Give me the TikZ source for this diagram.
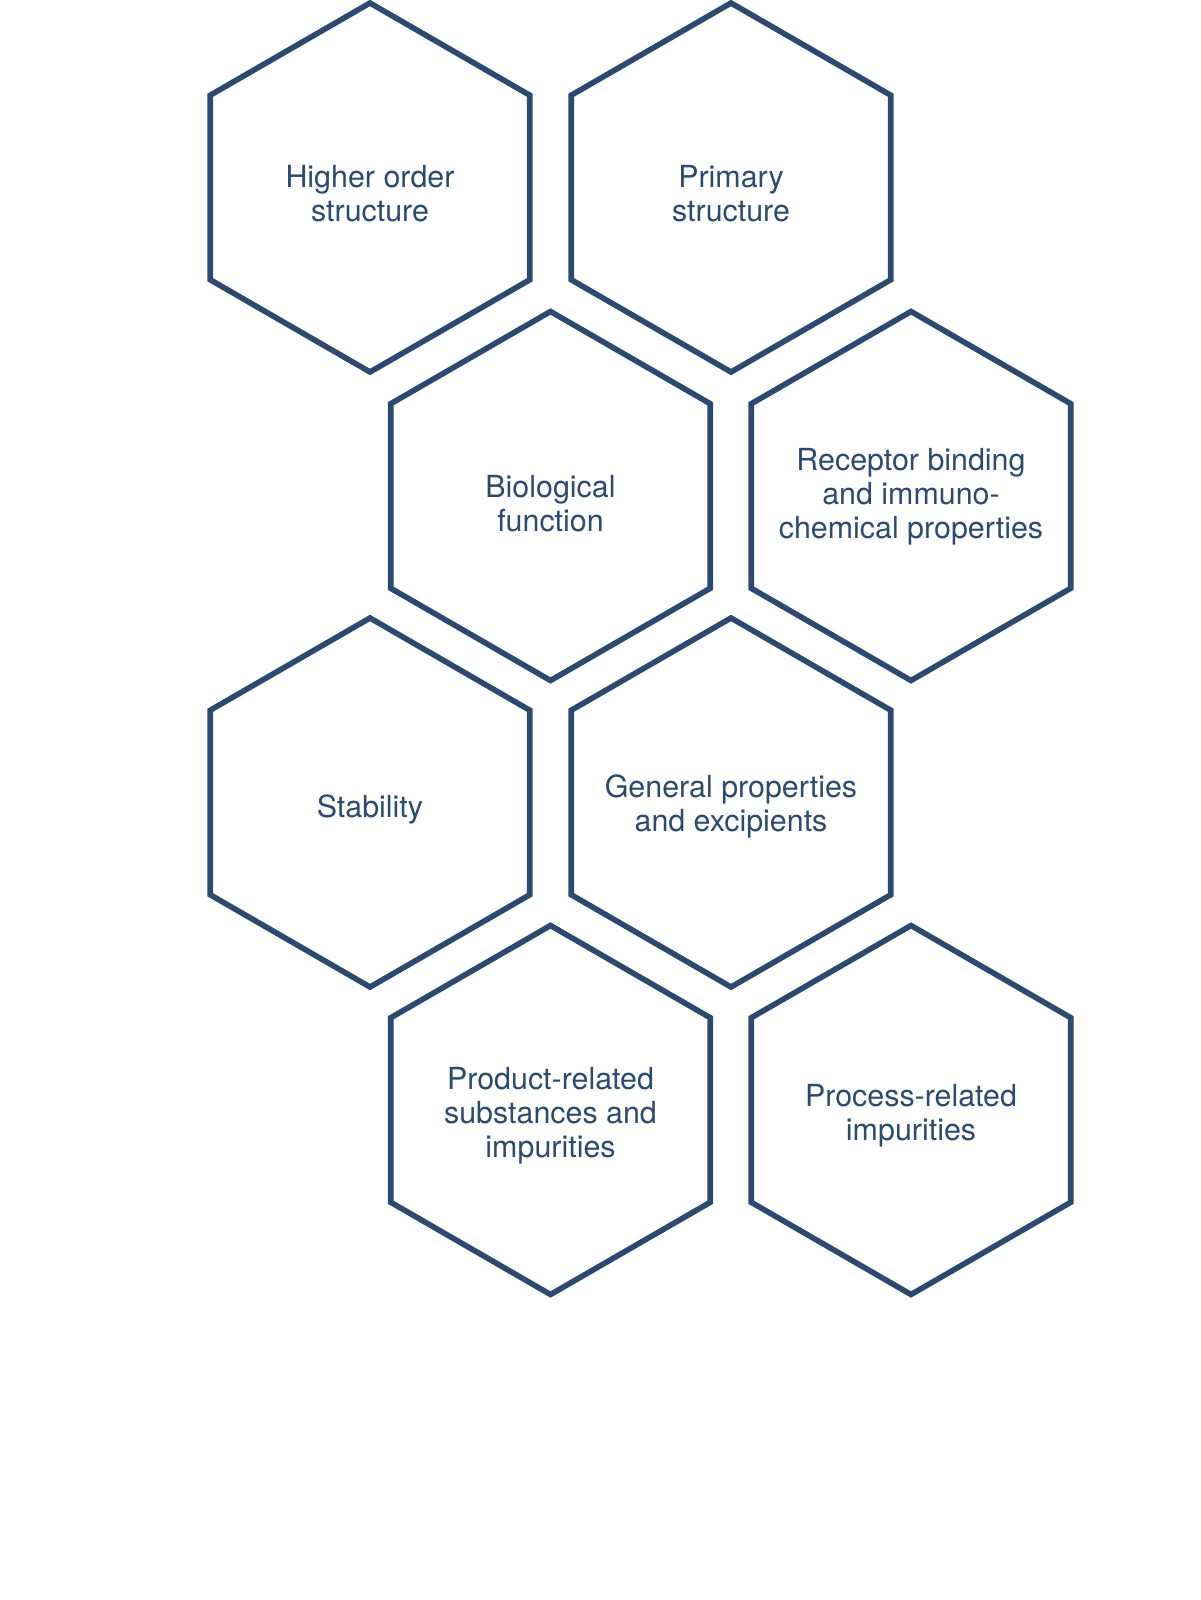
\documentclass[tikz,border=0pt]{standalone}
\usepackage{fontspec}
\setmainfont{TeX Gyre Heros}
\definecolor{hexblue}{RGB}{44,73,112}
\begin{document}
\begin{tikzpicture}[x=0.5pt,y=-0.5pt,
  hexa/.style={draw=hexblue, line width=2.8pt, line join=miter},
  lbl/.style={text=hexblue, font=\fontsize{15.2}{17}\selectfont, align=center, anchor=base, inner sep=0pt}]
\useasboundingbox[fill=white] (0,0) rectangle (1200,1600);
\def\R{184.5}
% hexagon centres
\coordinate (cA) at (370,187.5);
\coordinate (cB) at (731,187.5);
\coordinate (cC) at (550.5,496);
\coordinate (cD) at (911,496);
\coordinate (cE) at (370,802.5);
\coordinate (cF) at (731,802.5);
\coordinate (cG) at (550.5,1110);
\coordinate (cH) at (911,1110);
\foreach \c in {cA,cB,cC,cD,cE,cF,cG,cH}{
  \draw[hexa] (\c) +(90:\R) -- +(30:\R) -- +(-30:\R) -- +(-90:\R) -- +(-150:\R) -- +(150:\R) -- cycle;
}
% labels (anchored at the baseline of the last line)
\node[lbl] (tA) at (370,221.7) {Higher order\\structure};
\node[lbl] (tB) at (731,221.7) {Primary\\structure};
\node[lbl] (tC) at (550.5,531.7) {Biological\\function};
\node[lbl] (tD) at (911,538) {Receptor binding\\and immuno-\\chemical properties};
\node[lbl] (tE) at (370,817.7) {Stability};
\node[lbl] (tF) at (731,831.7) {General properties\\and excipients};
\node[lbl] (tG) at (550.5,1157) {Product-related\\substances and\\impurities};
\node[lbl] (tH) at (911,1140.7) {Process-related\\impurities};
\end{tikzpicture}
\end{document}
